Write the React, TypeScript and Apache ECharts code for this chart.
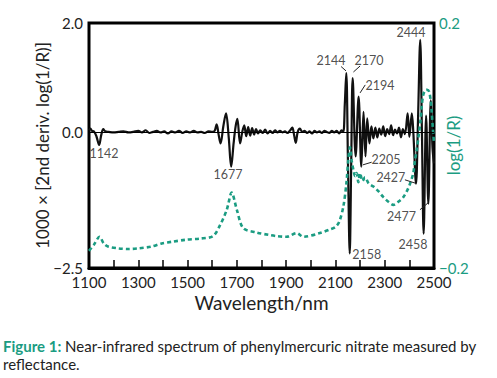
import React, { useEffect, useRef } from "react";
import * as echarts from "echarts";

// 2nd derivative spectrum (left axis): wavelength nm, value
const derivNm = [
  1100, 1106, 1112, 1120, 1130, 1141, 1150, 1158, 1166, 1180, 1200, 1220, 1240, 1260, 1280, 1300, 1315, 1330, 1345, 1360,
  1375, 1390, 1405, 1420, 1435, 1450, 1465, 1480, 1495, 1510, 1525, 1540, 1555, 1570, 1585, 1600, 1610, 1618, 1626, 1634,
  1645, 1656, 1667, 1677, 1687, 1695, 1702, 1713, 1722, 1730, 1738, 1746, 1754, 1762, 1770, 1778, 1786, 1795, 1805, 1815,
  1825, 1835, 1845, 1855, 1865, 1875, 1885, 1895, 1905, 1915, 1925, 1932, 1939, 1947, 1956, 1965, 1975, 1985, 1995, 2005,
  2015, 2025, 2035, 2045, 2055, 2065, 2075, 2085, 2095, 2105, 2115, 2125, 2132, 2138, 2144, 2151, 2158, 2164, 2170, 2182,
  2194, 2205, 2214, 2222, 2229, 2238, 2246, 2254, 2262, 2270, 2278, 2286, 2294, 2302, 2310, 2318, 2326, 2334, 2342, 2350,
  2358, 2366, 2374, 2382, 2393, 2400, 2410, 2416, 2427, 2435, 2444, 2451, 2458, 2468, 2477, 2487, 2494, 2500,
];
const derivVal = [
  0.03, 0.06, 0.02, 0.01, -0.08, -0.24, -0.05, 0.05, 0.01, 0.0, -0.01, 0.0, 0.01, -0.01, 0.0, 0.02, -0.01, 0.03, -0.02, 0.0,
  0.02, -0.01, 0.01, -0.03, 0.01, -0.01, 0.02, -0.02, 0.01, -0.01, 0.02, -0.01, 0.0, -0.02, 0.01, 0.0, 0.02, 0.14, -0.05, -0.21,
  0.1, 0.34, -0.1, -0.64, -0.2, 0.1, 0.24, -0.21, 0.0, 0.12, -0.08, 0.09, -0.07, 0.07, -0.05, 0.05, -0.03, 0.03, -0.02, 0.04,
  -0.03, 0.02, -0.02, 0.03, -0.01, 0.02, -0.01, 0.01, -0.02, 0.02, 0.08, -0.05, -0.2, 0.0, 0.06, 0.0, 0.02, -0.02, 0.01, -0.03,
  0.02, -0.01, 0.01, -0.02, 0.02, 0.0, -0.02, 0.02, -0.01, 0.02, -0.03, 0.03, 0.0, 0.5, 1.08, -0.6, -2.23, -0.6, 0.99, -0.45,
  0.65, -0.64, 0.37, -0.45, 0.25, -0.21, 0.1, -0.12, 0.08, -0.1, 0.06, -0.05, 0.1, -0.08, 0.05, -0.04, 0.12, -0.06, 0.04, -0.03,
  0.08, -0.1, 0.05, -0.04, 0.34, -0.09, 0.34, 0.0, -0.95, 0.2, 1.69, 0.0, -1.87, 0.3, -1.32, 0.58, -0.3, -0.58,
];

// log(1/R) spectrum (right axis)
const absNm = [
  1100, 1120, 1143, 1160, 1177, 1220, 1260, 1300, 1354, 1395, 1440, 1490, 1550, 1603, 1632, 1659, 1679, 1700, 1726, 1780,
  1830, 1862, 1902, 1943, 1970, 2037, 2078, 2100, 2115, 2132, 2145, 2152, 2159, 2166, 2173, 2180, 2186, 2193, 2200, 2210,
  2220, 2235, 2254, 2275, 2294, 2315, 2335, 2355, 2376, 2393, 2403, 2416, 2423, 2430, 2437, 2445, 2450, 2456, 2464, 2472,
  2480, 2486, 2490, 2495, 2500,
];
const absVal = [
  -0.172, -0.162, -0.149, -0.16, -0.165, -0.168, -0.169, -0.168, -0.165, -0.16, -0.157, -0.154, -0.152, -0.148, -0.13, -0.105, -0.077, -0.105, -0.135, -0.142,
  -0.146, -0.148, -0.149, -0.143, -0.149, -0.143, -0.137, -0.133, -0.125, -0.1, -0.06, -0.024, -0.003, -0.025, -0.04, -0.05, -0.045, -0.06, -0.045, -0.058,
  -0.052, -0.062, -0.067, -0.075, -0.084, -0.092, -0.097, -0.092, -0.084, -0.072, -0.062, -0.045, -0.024, -0.007, 0.014, 0.04, 0.063, 0.082, 0.09, 0.091,
  0.088, 0.075, 0.058, 0.03, 0.004,
];

// peak annotations: label, label-centre wavelength, label-centre value
const peakLabels = ["1142", "1677", "2144", "2170", "2194", "2205", "2427", "2444", "2477", "2458", "2158"];
const peakLabelNm = [1161, 1664, 2082, 2236, 2281, 2305, 2325, 2407, 2368, 2415, 2227];
const peakLabelVal = [-0.4, -0.79, 1.32, 1.32, 0.845, -0.51, -0.83, 1.82, -1.56, -2.06, -2.26];

// leader lines: from (nm, val) to (nm, val)
const leaderFromNm = [2123, 2200, 2200, 2211, 2382, 2443];
const leaderFromVal = [1.2, 1.21, 0.716, -0.606, -0.88, -1.43];
const leaderToNm = [2143, 2173, 2221, 2247, 2423, 2477];
const leaderToVal = [1.12, 1.1, 0.863, -0.557, -0.94, -1.3];

const xTicks = [1100, 1300, 1500, 1700, 1900, 2100, 2300, 2500];
const leftTicks = [2.0, 0.0, -2.5];
const rightTicks = [0.2, -0.2];

const TEAL = "#1b9c82";
const INK = "#111111";
const FONT = "Lato";

export default function App() {
  const ref = useRef<HTMLDivElement>(null);
  useEffect(() => {
    if (!ref.current) return;
    const chart = echarts.init(ref.current, null, { renderer: "svg" });
    const fmt = (v: number) => (v < 0 ? "\u2212" : "") + Math.abs(v).toFixed(1);
    const option: any = {
      animation: false,
      backgroundColor: "#ffffff",
      grid: {
        left: 89,
        right: 63,
        top: 23,
        bottom: 110,
        show: true,
        borderColor: "#000",
        borderWidth: 3,
        containLabel: false,
        outerBoundsMode: "none",
      },
      xAxis: {
        type: "value",
        min: 1100,
        max: 2500,
        interval: 100,
        name: "Wavelength/nm",
        nameLocation: "middle",
        nameGap: 25,
        nameMoveOverlap: false,
        nameTextStyle: { fontFamily: FONT, fontSize: 19, color: "#222" },
        axisLine: { show: true, onZero: false, lineStyle: { color: "#000", width: 3 } },
        axisTick: { show: true, inside: true, length: 8, lineStyle: { color: "#000", width: 1.5 } },
        splitLine: { show: false },
        axisLabel: {
          fontFamily: FONT,
          fontSize: 15,
          color: "#222",
          margin: 6,
          formatter: (v: number) => (xTicks.indexOf(v) >= 0 ? String(v) : ""),
        },
      },
      yAxis: [
        {
          type: "value",
          min: -2.5,
          max: 2.0,
          interval: 0.5,
          name: "1000 \u00d7 [2nd deriv. log(1/R)]",
          nameLocation: "middle",
          nameRotate: 90,
          nameGap: 38,
          nameMoveOverlap: false,
          nameTextStyle: { fontFamily: FONT, fontSize: 17, color: "#222" },
          axisLine: { show: false, onZero: false },
          axisTick: { show: false },
          splitLine: { show: false },
          axisLabel: {
            fontFamily: FONT,
            fontSize: 15,
            color: "#222",
            margin: 6,
            formatter: (v: number) => (leftTicks.some((t) => Math.abs(t - v) < 1e-6) ? fmt(v) : ""),
          },
        },
        {
          type: "value",
          min: -0.2,
          max: 0.2,
          interval: 0.2,
          position: "right",
          name: "log(1/R)",
          nameLocation: "middle",
          nameRotate: 90,
          nameGap: 11,
          nameMoveOverlap: false,
          nameTextStyle: { fontFamily: FONT, fontSize: 17, color: TEAL },
          axisLine: { show: false, onZero: false },
          axisTick: { show: false },
          splitLine: { show: false },
          axisLabel: {
            fontFamily: FONT,
            fontSize: 15,
            color: TEAL,
            margin: 5,
            formatter: (v: number) => (rightTicks.some((t) => Math.abs(t - v) < 1e-6) ? fmt(v) : ""),
          },
        },
      ],
      series: [
        {
          type: "line",
          name: "deriv",
          yAxisIndex: 0,
          data: derivNm.map((x, i) => [x, derivVal[i]]),
          showSymbol: false,
          smooth: 0.35,
          lineStyle: { color: INK, width: 2.2 },
          markLine: {
            silent: true,
            symbol: "none",
            label: { show: false },
            lineStyle: { color: "#000", width: 1, type: "solid" },
            data: [{ yAxis: 0 }],
          },
          z: 2,
        },
        {
          type: "line",
          name: "abs",
          yAxisIndex: 1,
          data: absNm.map((x, i) => [x, absVal[i]]),
          showSymbol: false,
          smooth: 0.3,
          lineStyle: { color: TEAL, width: 2.6, type: [4, 3] },
          z: 3,
        },
        {
          type: "scatter",
          name: "labels",
          yAxisIndex: 0,
          symbolSize: 0,
          data: peakLabels.map((t, i) => ({ name: t, value: [peakLabelNm[i], peakLabelVal[i]] })),
          label: {
            show: true,
            position: "inside",
            formatter: "{b}",
            fontFamily: FONT,
            fontSize: 12.5,
            color: "#222",
          },
          markLine: {
            silent: true,
            symbol: "none",
            label: { show: false },
            lineStyle: { color: "#222", width: 1, type: "solid" },
            data: leaderFromNm.map((x, i) => [
              { coord: [x, leaderFromVal[i]] },
              { coord: [leaderToNm[i], leaderToVal[i]] },
            ]),
          },
          z: 4,
        },
      ],
      graphic: [
        {
          type: "text",
          left: 3,
          top: 337,
          style: {
            text: "{b|Figure 1:} Near-infrared spectrum of phenylmercuric nitrate measured by\nreflectance.",
            fontFamily: FONT,
            fontSize: 15,
            lineHeight: 18,
            fill: "#222",
            rich: {
              b: { fontFamily: FONT, fontSize: 15, fontWeight: "bold", fill: TEAL, lineHeight: 18 },
            },
          },
        },
      ],
    };
    chart.setOption(option);
    return () => chart.dispose();
  }, []);
  return (
    <div
      ref={ref}
      style={{ position: "fixed", left: 0, top: 0, width: 497, height: 378, background: "#fff" }}
    />
  );
}
